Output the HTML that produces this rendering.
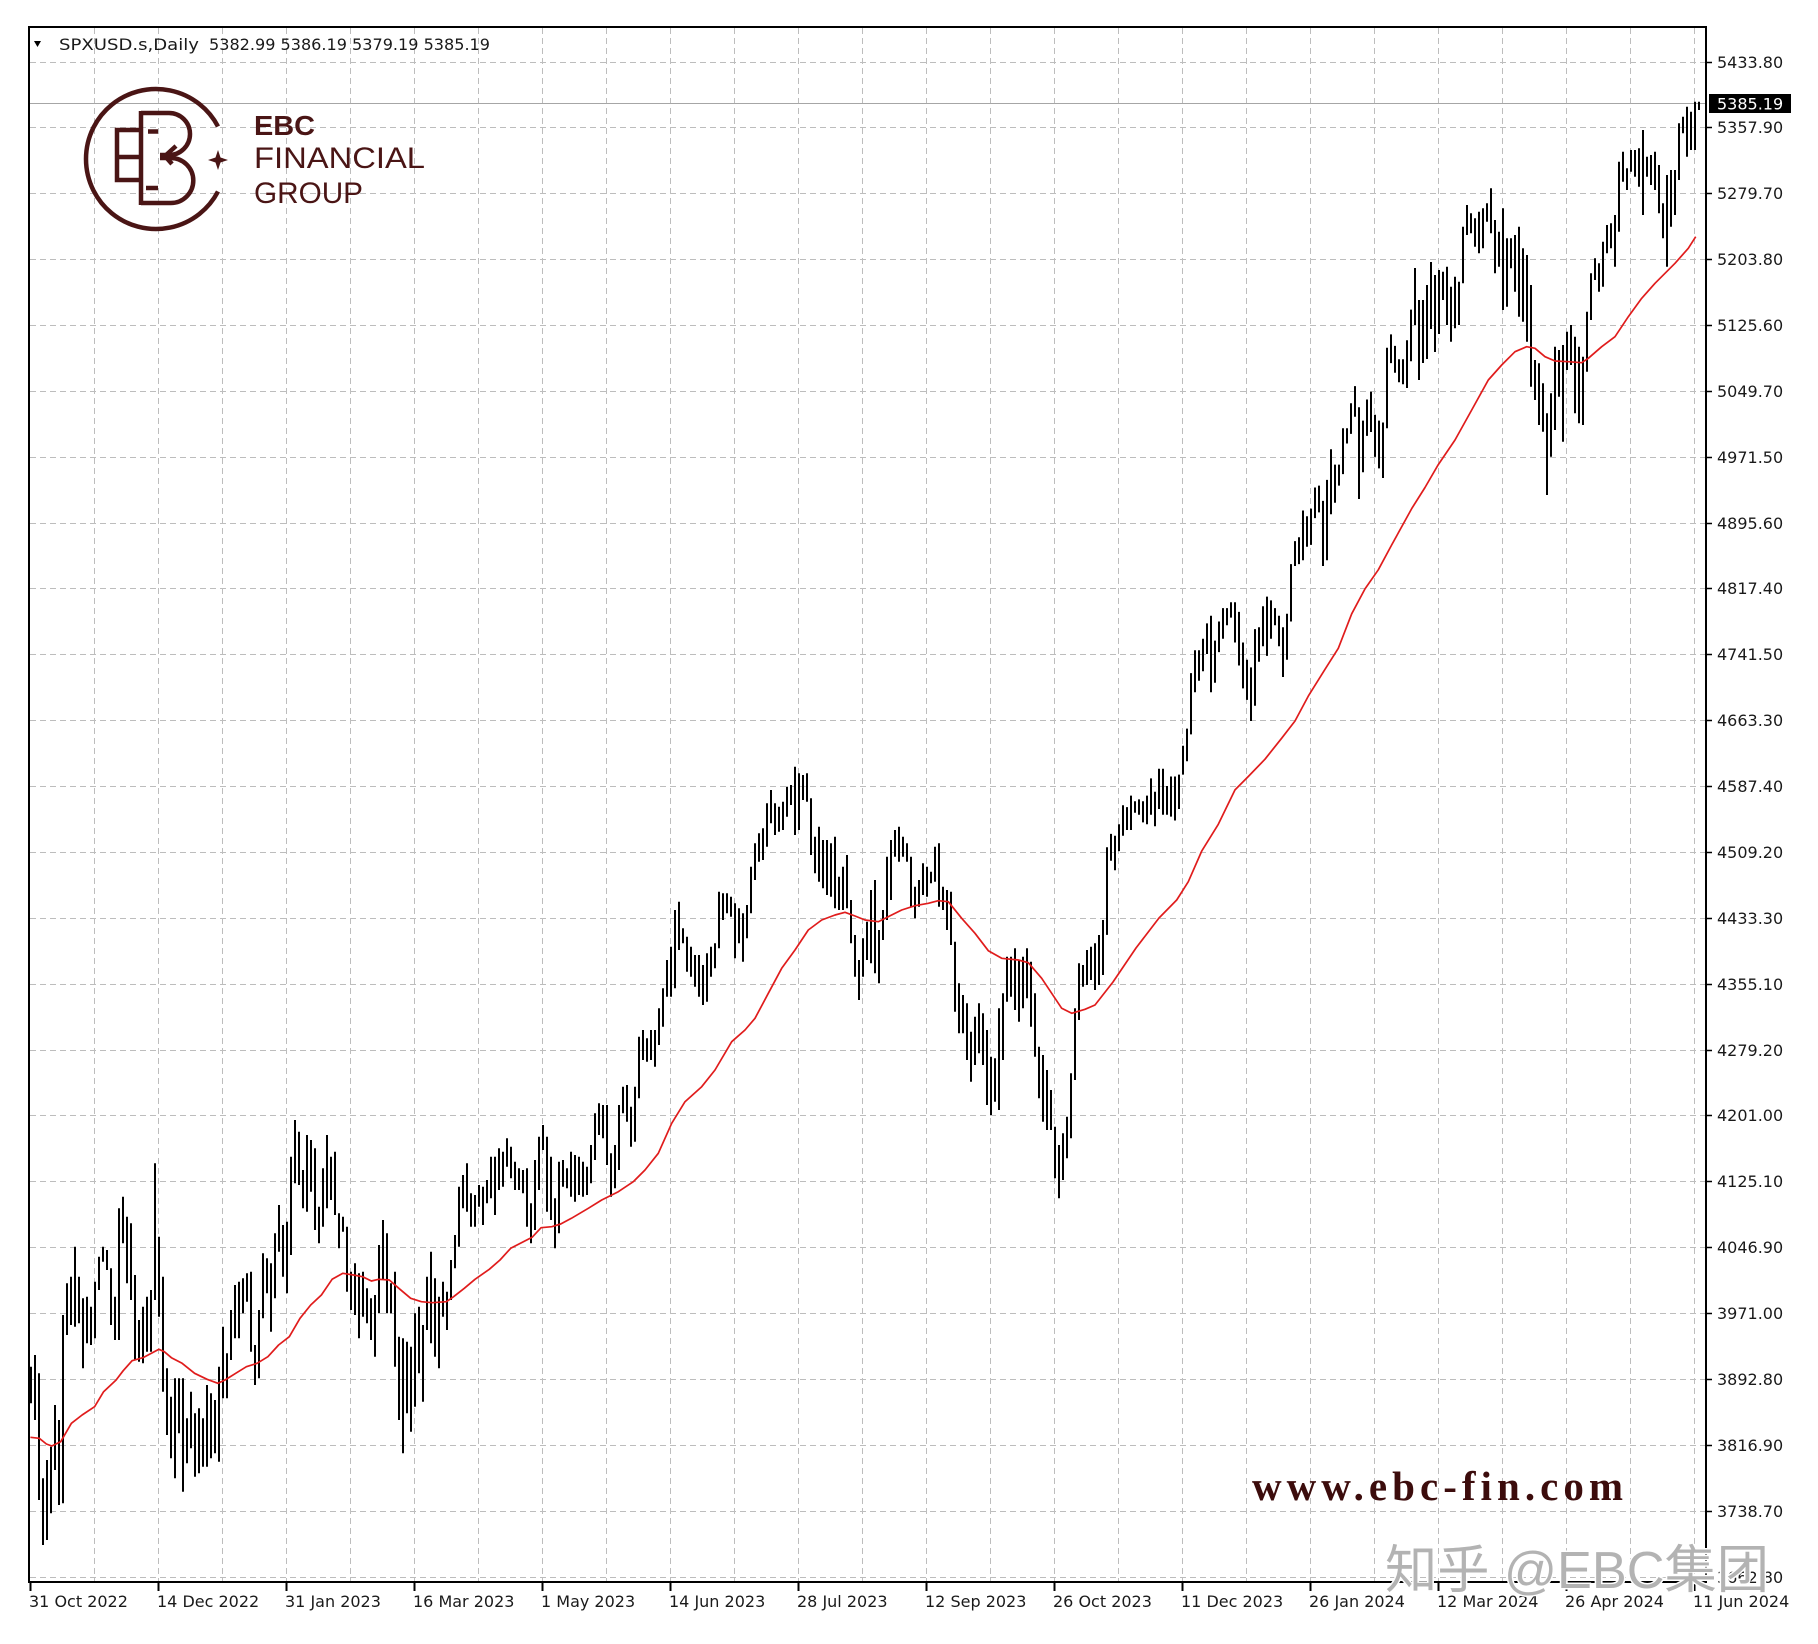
<!DOCTYPE html>
<html><head><meta charset="utf-8">
<style>
html,body{margin:0;padding:0;background:#fff;width:1818px;height:1644px;overflow:hidden}
svg{display:block}
</style></head>
<body>
<svg xmlns="http://www.w3.org/2000/svg" width="1818" height="1644" viewBox="0 0 1818 1644">
<rect width="1818" height="1644" fill="#fff"/>
<!-- grid -->
<g stroke="#bdbdbd" stroke-width="1" stroke-dasharray="6,4" fill="none">
<path d="M30 62.5H1705M30 127.5H1705M30 193.5H1705M30 259.5H1705M30 325.5H1705M30 391.5H1705M30 457.5H1705M30 523.5H1705M30 588.5H1705M30 654.5H1705M30 720.5H1705M30 786.5H1705M30 852.5H1705M30 918.5H1705M30 984.5H1705M30 1050.5H1705M30 1115.5H1705M30 1181.5H1705M30 1247.5H1705M30 1313.5H1705M30 1379.5H1705M30 1445.5H1705M30 1511.5H1705M30 1577.5H1705"/>
<path d="M94.5 28V1581M158.5 28V1581M222.5 28V1581M286.5 28V1581M350.5 28V1581M414.5 28V1581M478.5 28V1581M542.5 28V1581M606.5 28V1581M670.5 28V1581M734.5 28V1581M798.5 28V1581M862.5 28V1581M926.5 28V1581M990.5 28V1581M1054.5 28V1581M1118.5 28V1581M1182.5 28V1581M1246.5 28V1581M1310.5 28V1581M1374.5 28V1581M1438.5 28V1581M1502.5 28V1581M1566.5 28V1581M1630.5 28V1581M1694.5 28V1581"/>
</g>
<!-- bid line -->
<path d="M30 103.5H1705" stroke="#a6a6a6" stroke-width="1"/>

<!-- logo -->
<g fill="none" stroke="#4a1515" stroke-width="4.5">
<path d="M218 126.5A70 70 0 1 0 218 191.5"/>
<path d="M139 130H117V180H139M117 157H139"/>
<path d="M141 111V205"/>
<path d="M141 113H169A21 21 0 0 1 169 155H160"/>
<path d="M160 158H170.8A22.5 22.5 0 0 1 170.8 203H141"/>
<path d="M148 131.5H158"/>
<path d="M176 146L165 156L172 164"/>
<path d="M146 188H158"/>
</g>
<path d="M218 150L220.5 157.5L228 160L220.5 162.5L218 170L215.5 162.5L208 160L215.5 157.5Z" fill="#4a1515"/>
<text x="254" y="135" font-family="'Liberation Sans',sans-serif" font-weight="bold" font-size="28" fill="#4a1515" textLength="61" lengthAdjust="spacingAndGlyphs">EBC</text>
<text x="254" y="168" font-family="'Liberation Sans',sans-serif" font-size="30" fill="#4a1515" textLength="171" lengthAdjust="spacingAndGlyphs">FINANCIAL</text>
<text x="254" y="203" font-family="'Liberation Sans',sans-serif" font-size="30" fill="#4a1515" textLength="109" lengthAdjust="spacingAndGlyphs">GROUP</text>

<!-- bars -->
<path id="bars" d="" stroke="#000" stroke-width="2" fill="none"/>

<!-- MA -->
<polyline fill="none" stroke="#e01c1c" stroke-width="1.7" stroke-linejoin="round" points="30.4,1437.3 39.3,1438.3 46.4,1444 51.8,1446 60.7,1441.7 71.4,1423.3 82.1,1415 94.6,1406.7 103.6,1391.7 116.1,1380 123.2,1370.7 132.1,1360.7 142.9,1357.7 150,1354 158.9,1349.3 164.3,1351.7 171.4,1357.7 182.1,1363.3 194.6,1373.3 207.1,1379.3 217.9,1383.3 225,1380 235.7,1373.3 246.4,1366.7 257.1,1363.3 267.9,1356.7 278.6,1345 289.3,1336.7 300,1318.3 310.7,1305 321.4,1295 332.1,1279.3 342.9,1273.3 353.6,1275 362.5,1276.7 371.4,1281 378.6,1279.3 389.3,1280 400,1289.3 410.7,1298.3 421.4,1301.7 432.1,1302.7 446.4,1301.7 453.6,1296.7 464.3,1288.3 475,1279.3 489.3,1269.3 500,1260 510.7,1248.3 521.4,1242.7 532.1,1237.3 541.1,1227.7 551.8,1226.7 560.7,1224 571.4,1218.3 588.3,1208.3 601.7,1200 618.3,1191.7 633.3,1181.7 645,1170 658.3,1153.3 671.7,1123.3 685,1101.7 701.7,1086.7 715,1070 731.7,1041.7 745,1030 755,1018.3 768.3,993.3 781.7,968.3 795,950 808.3,930 821.7,920 835,915 845,912.3 855,916 865,920 878.3,921.7 888.3,916.7 901.7,910 915,905.7 928.3,903.3 938.3,900.7 948.3,901.7 961.7,918.3 975,933.3 988.3,950.7 1001.7,958.3 1018.3,960 1028.3,962.7 1041.7,978.3 1051.7,993.3 1061.7,1008.3 1071.7,1013.3 1085,1009.3 1095,1005 1113,982 1136,948 1159,918 1176.7,900 1188.3,881.7 1201.7,851.1 1218.3,824.3 1235,789.9 1248.3,776.5 1265,759.2 1281.7,738.2 1295,721 1308.3,696.1 1325,669.3 1338.3,648.3 1351.7,613.8 1365,588.9 1378.3,569.8 1391.7,544.9 1411.7,508.6 1425,487.5 1438.3,464.6 1455,440 1471.7,410 1488.3,380 1501.7,365 1515,351.7 1526.7,346.7 1535,348.3 1545,356.7 1555,361 1568.3,361.7 1581.7,362.7 1588.3,358.3 1601.7,346.7 1615,336.7 1628.3,316.7 1641.7,298.3 1655,283.3 1665,273.3 1675,263.3 1688.3,248.3 1695.7,236.7"/>

<!-- frame -->
<rect x="29" y="27" width="1677" height="1555" fill="none" stroke="#000" stroke-width="2"/>

<!-- right ticks -->
<path stroke="#000" stroke-width="1.5" d="M1707 62.5H1712M1707 127.5H1712M1707 193.5H1712M1707 259.5H1712M1707 325.5H1712M1707 391.5H1712M1707 457.5H1712M1707 523.5H1712M1707 588.5H1712M1707 654.5H1712M1707 720.5H1712M1707 786.5H1712M1707 852.5H1712M1707 918.5H1712M1707 984.5H1712M1707 1050.5H1712M1707 1115.5H1712M1707 1181.5H1712M1707 1247.5H1712M1707 1313.5H1712M1707 1379.5H1712M1707 1445.5H1712M1707 1511.5H1712M1707 1577.5H1712"/>
<!-- bottom ticks -->
<path stroke="#000" stroke-width="2" d="M30.5 1583V1591M158.5 1583V1591M286.5 1583V1591M414.5 1583V1591M542.5 1583V1591M670.5 1583V1591M798.5 1583V1591M926.5 1583V1591M1054.5 1583V1591M1182.5 1583V1591M1310.5 1583V1591M1438.5 1583V1591M1566.5 1583V1591M1694.5 1583V1591"/>

<!-- price labels -->
<g font-family="'DejaVu Sans','Liberation Sans',sans-serif" font-size="16" fill="#1a1a1a">
<text x="1717" y="68">5433.80</text>
<text x="1717" y="133">5357.90</text>
<text x="1717" y="199">5279.70</text>
<text x="1717" y="265">5203.80</text>
<text x="1717" y="331">5125.60</text>
<text x="1717" y="397">5049.70</text>
<text x="1717" y="463">4971.50</text>
<text x="1717" y="529">4895.60</text>
<text x="1717" y="594">4817.40</text>
<text x="1717" y="660">4741.50</text>
<text x="1717" y="726">4663.30</text>
<text x="1717" y="792">4587.40</text>
<text x="1717" y="858">4509.20</text>
<text x="1717" y="924">4433.30</text>
<text x="1717" y="990">4355.10</text>
<text x="1717" y="1056">4279.20</text>
<text x="1717" y="1121">4201.00</text>
<text x="1717" y="1187">4125.10</text>
<text x="1717" y="1253">4046.90</text>
<text x="1717" y="1319">3971.00</text>
<text x="1717" y="1385">3892.80</text>
<text x="1717" y="1451">3816.90</text>
<text x="1717" y="1517">3738.70</text>
<text x="1717" y="1583">3662.80</text>
</g>
<rect x="1709" y="94" width="82" height="19" fill="#000"/>
<text x="1717" y="109.5" font-family="'DejaVu Sans','Liberation Sans',sans-serif" font-size="16" fill="#fff">5385.19</text>

<!-- date labels -->
<g font-family="'DejaVu Sans','Liberation Sans',sans-serif" font-size="16" fill="#1a1a1a">
<text x="29" y="1607">31 Oct 2022</text>
<text x="157" y="1607">14 Dec 2022</text>
<text x="285" y="1607">31 Jan 2023</text>
<text x="413" y="1607">16 Mar 2023</text>
<text x="541" y="1607">1 May 2023</text>
<text x="669" y="1607">14 Jun 2023</text>
<text x="797" y="1607">28 Jul 2023</text>
<text x="925" y="1607">12 Sep 2023</text>
<text x="1053" y="1607">26 Oct 2023</text>
<text x="1181" y="1607">11 Dec 2023</text>
<text x="1309" y="1607">26 Jan 2024</text>
<text x="1437" y="1607">12 Mar 2024</text>
<text x="1565" y="1607">26 Apr 2024</text>
<text x="1693" y="1607">11 Jun 2024</text>
</g>

<!-- title -->
<polygon points="34,41 41,41 37.5,47" fill="#000"/>
<text x="59" y="50" font-family="'DejaVu Sans','Liberation Sans',sans-serif" font-size="16" fill="#1a1a1a" textLength="140" lengthAdjust="spacingAndGlyphs">SPXUSD.s,Daily</text>
<text x="209" y="50" font-family="'DejaVu Sans','Liberation Sans',sans-serif" font-size="16" fill="#1a1a1a" textLength="281" lengthAdjust="spacingAndGlyphs">5382.99 5386.19 5379.19 5385.19</text>

<!-- watermarks -->
<text x="1252" y="1500" font-family="'Liberation Serif',serif" font-weight="bold" font-size="41" fill="#3c0c0c" textLength="371" lengthAdjust="spacing">www.ebc-fin.com</text>
<text x="1385" y="1588" font-family="'Liberation Sans','Noto Sans CJK SC',sans-serif" font-size="52" fill="#b3b3b3" stroke="#fff" stroke-width="3" paint-order="stroke" textLength="384" lengthAdjust="spacingAndGlyphs">知乎 @EBC集团</text>
</svg>
<script>
(function(){
var A=[860,970,825,1020,880,1260,1195,1395,1140,1380,1100,1300,975,1170,1020,1275,705,1270,610,765,
590,735,500,740,590,730,655,865,650,790,680,795,605,775,530,630,500,545,510,570,
565,735,650,780,385,780,350,490,410,610,430,660,585,840,720,845,680,850,650,815,
630,815,250,660,470,710,590,935,865,1065,950,1135,895,1195,895,1060,895,1235,1015,1150,
935,1105,1000,1190,985,1180,1015,1160,915,1160,940,1135,960,1120,860,1145,740,955,820,955,
690,840,615,775,605,775,595,700,580,665,575,815,795,915,690,895,520,715,535,640,
550,755,460,655,375,515,435,590,425,640,230,525,120,310,155,315,270,385,165,395,
180,335,205,450,380,490,265,440,165,385,230,360,215,405,400,505,410,455,440,635,
575,690,550,705,580,775,575,710,625,730,655,780,645,830,495,700,420,600,460,700,
610,700,575,860,770,1020,775,1120,785,1000,800,1055,700,980,680,880,735,965,590,750,
515,790,595,830,650,865,605,710,635,750,540,660,465,565,320,500,285,385,250,395,
340,440,345,440,315,380,320,435,300,370,230,355,230,405,205,330,215,320,175,260,
200,295,245,330,265,330,270,340,265,440,370,490,240,450,170,330,135,210,170,395,
230,420,355,505,245,460,240,320,265,325,215,350,225,365];
var B=[1250,1365,1265,1370,1280,1365,1215,1330,1120,1260,1090,1185,1095,1195,1095,1275,1240,1370,1215,1345,
1095,1290,1040,1120,1035,1145,1100,1220,1040,1205,890,1075,870,960,895,965,870,960,870,980,
805,915,745,860,660,770,620,770,510,745,485,630,565,610,590,695,620,710,645,740,
645,770,675,795,640,785,620,710,610,685,455,625,460,540,460,520,470,530,490,655,
505,610,520,665,495,595,380,520,310,420,280,365,265,360,190,320,150,250,190,285,
200,275,185,270,140,230,135,195,80,285,100,270,105,180,100,185,175,345,290,400,
260,425,300,445,300,465,310,470,290,505,410,510,380,510,345,505,480,610,585,710,
660,780,595,710,545,660,450,670,420,700,570,730,510,600,350,540,300,480,270,350,
260,365,290,350,310,365,350,500,440,535,420,500,370,465,380,470,395,430,320,425,
310,500,440,510,450,570,455,615,605,815,730,880,765,880,790,960,875,1025,830,975,
790,940,820,975,870,1095,950,1125,955,1085,805,1110,760,960,650,785,650,770,625,810,
660,845,650,805,625,775,665,860,760,950,920,1075,945,1145,990,1170,1050,1170,1160,1315,
1215,1375,1180,1320,1130,1255,1000,1195,805,1020,670,840,675,740,630,735,620,720,610,750];
var C=[935,985,920,975];
var D=[1430,1659,1395,1465,1400,1490,1370,1440,1320,1400,1325,1385,1295,1385,1310,1340,1305,1345,1310,1365,
1295,1370,1250,1345,1285,1375,1225,1330,1225,1345,1270,1345,1245,1350,1245,1360,1240,1330,1165,1240,
1120,1205,975,1135,915,1025,915,995,885,970,845,925,825,1025,890,1000,840,920,805,885,
805,850,790,830,790,895,815,955,895,1015,940,1045,960,1100,860,1060,855,945,800,905,
775,930,785,885,805,850,825,905,855,985,820,940,690,840,630,695,620,690,550,680,
565,645,545,640,490,570,485,555,525,695,470,680,390,560,430,530,430,485,335,455,
335,375,270,350,225,305,280,520,315,450,260,355,240,345,300,410,315,440,320,465,
125,335,90,165,120,190,155,215,155,220,105,230,25,160];
var E=[268,325,300,380,300,363,285,359,262,329,275,352,270,334];
var F=[545,630,530,705,590,755,560,715,575,705,410,580,345,435,370,430,385,470,365,490,
355,475,340,395,295,430,390,550,425,530,355,660,445,650,445,535,435,605,410,680,
475,695,495,755,585,890,810,930,820,1005,880,1025,970,1215,910,1100,770,1020,780,920,
765,1055,725,840,705,825,740,970,770,1000,800,1005,665,845,550,690,505,570,520,605,
455,590,405,490,400,475,375,530,215,425,185,275,235,300,180,245,180,260,175,290,
120,375,200,260,195,285,185,300,225,370,340,445,255,530,240,410,240,375,100,270,
80,130,50,200,65,180,35,180,35,60];
var segs=[[0,1080,3,A],[137,740,3,B],[267,0,1,C],[269,300,2.613,D],[346,0,1,E],[353,90,3,F]];
var d='';
for(var s=0;s<segs.length;s++){
 var i0=segs[s][0],oy=segs[s][1],f=segs[s][2],a=segs[s][3];
 for(var k=0;k<a.length;k+=2){
  var i=i0+k/2, x=31+4*i;
  var y1=(oy+a[k]/f).toFixed(1), y2=(oy+a[k+1]/f).toFixed(1);
  d+='M'+x+' '+y1+'V'+y2;
 }
}
document.getElementById('bars').setAttribute('d',d);
})();
</script>
</body></html>
